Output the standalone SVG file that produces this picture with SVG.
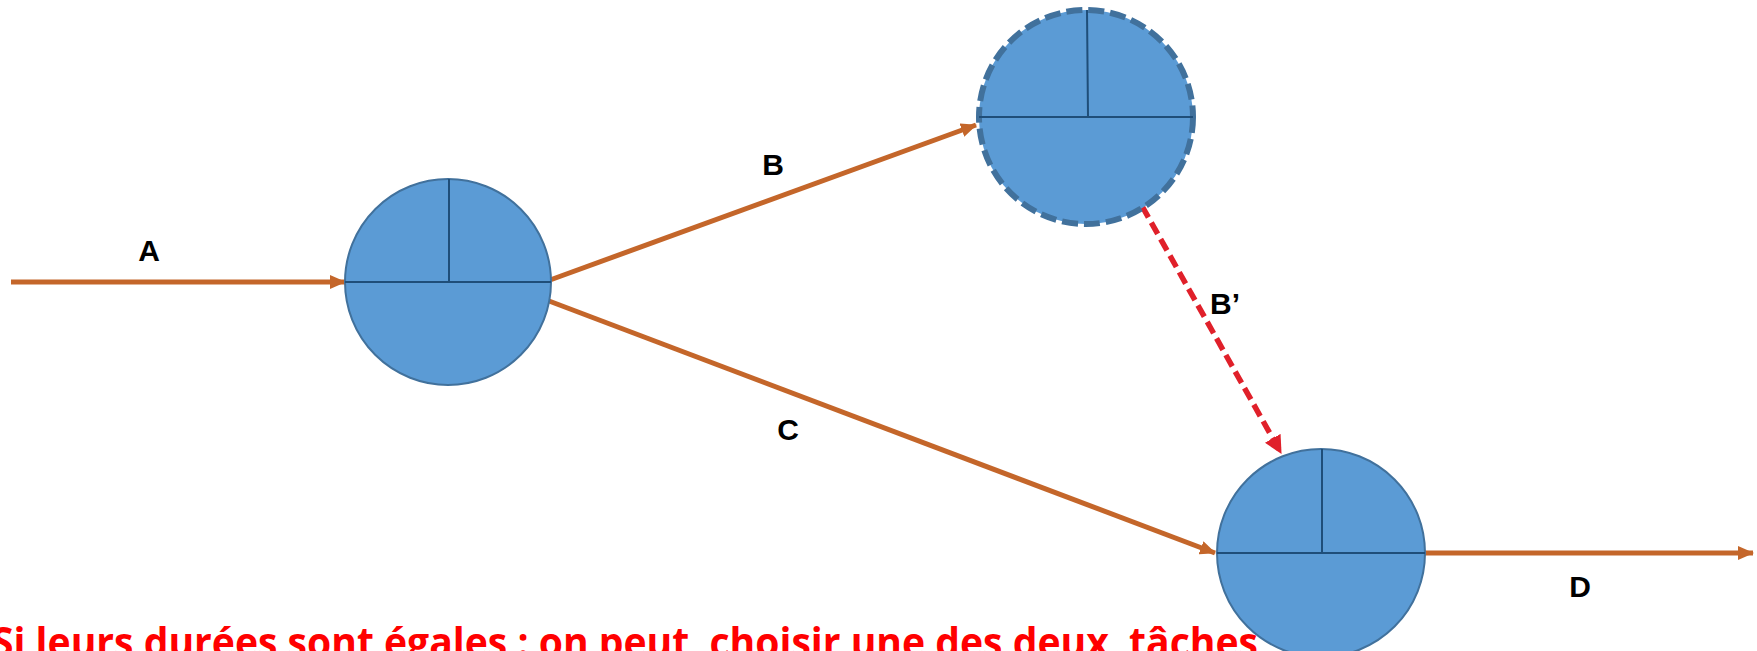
<svg xmlns="http://www.w3.org/2000/svg" width="1757" height="651" viewBox="0 0 1757 651">
<style>
.node{fill:#5B9BD5;stroke:#41719C;stroke-width:2}
.dnode{fill:#5B9BD5;stroke:#41719C;stroke-width:6;stroke-dasharray:16 6}
.div{stroke:#1F4E79;stroke-width:2;fill:none}
.act{stroke:#C4662A;stroke-width:5;fill:none;marker-end:url(#ah)}
.dummy{stroke:#E0202A;stroke-width:5.5;fill:none;stroke-dasharray:13 6;marker-end:url(#ahr)}
.lbl{font-family:"Liberation Sans",Arial,sans-serif;font-weight:bold;font-size:30px;fill:#000}
.note{font-family:"Open Sans","Noto Sans",sans-serif;font-weight:bold;font-size:42px;fill:#FF0000}
</style>
<defs>
<marker id="ah" viewBox="0 0 16 14" refX="15" refY="7" markerWidth="16" markerHeight="14" markerUnits="userSpaceOnUse" orient="auto">
<path d="M0,0 L16,7 L0,14 Z" fill="#C4662A"/>
</marker>
<marker id="ahr" viewBox="0 0 16 16" refX="15" refY="8" markerWidth="18" markerHeight="18" markerUnits="userSpaceOnUse" orient="auto">
<path d="M0,0 L16,8 L0,16 Z" fill="#E0202A"/>
</marker>
</defs>
<rect width="1757" height="651" fill="#FFFFFF"/>
<g id="connectors">
<path class="act" d="M11,282 L345,282"/>
<path class="act" d="M550,280 L976,125"/>
<path class="act" d="M549,301 L1215,553"/>
<path class="act" d="M1425,553 L1753,553"/>
<path class="dummy" d="M1142,206 L1281,453"/>
</g>
<g id="node1">
<circle class="node" cx="448" cy="282" r="103"/>
<path class="div" d="M345,282 H551 M449,179 V282"/>
</g>
<g id="node2">
<circle class="dnode" cx="1086" cy="117" r="107"/>
<path class="div" d="M979,117 H1193 M1087,10 L1088,117"/>
</g>
<g id="node3">
<circle class="node" cx="1321" cy="553" r="104"/>
<path class="div" d="M1217,553 H1425 M1322,449 V553"/>
</g>
<g id="labels">
<text class="lbl" x="149" y="261" text-anchor="middle">A</text>
<text class="lbl" x="773" y="175" text-anchor="middle">B</text>
<text class="lbl" x="788" y="440" text-anchor="middle">C</text>
<text class="lbl" x="1580" y="597" text-anchor="middle">D</text>
<text class="lbl" x="1210" y="314">B’</text>
</g>
<text class="note" x="-8" y="657" xml:space="preserve" textLength="1266" lengthAdjust="spacingAndGlyphs">Si leurs durées sont égales : on peut  choisir une des deux  tâches</text>
</svg>
